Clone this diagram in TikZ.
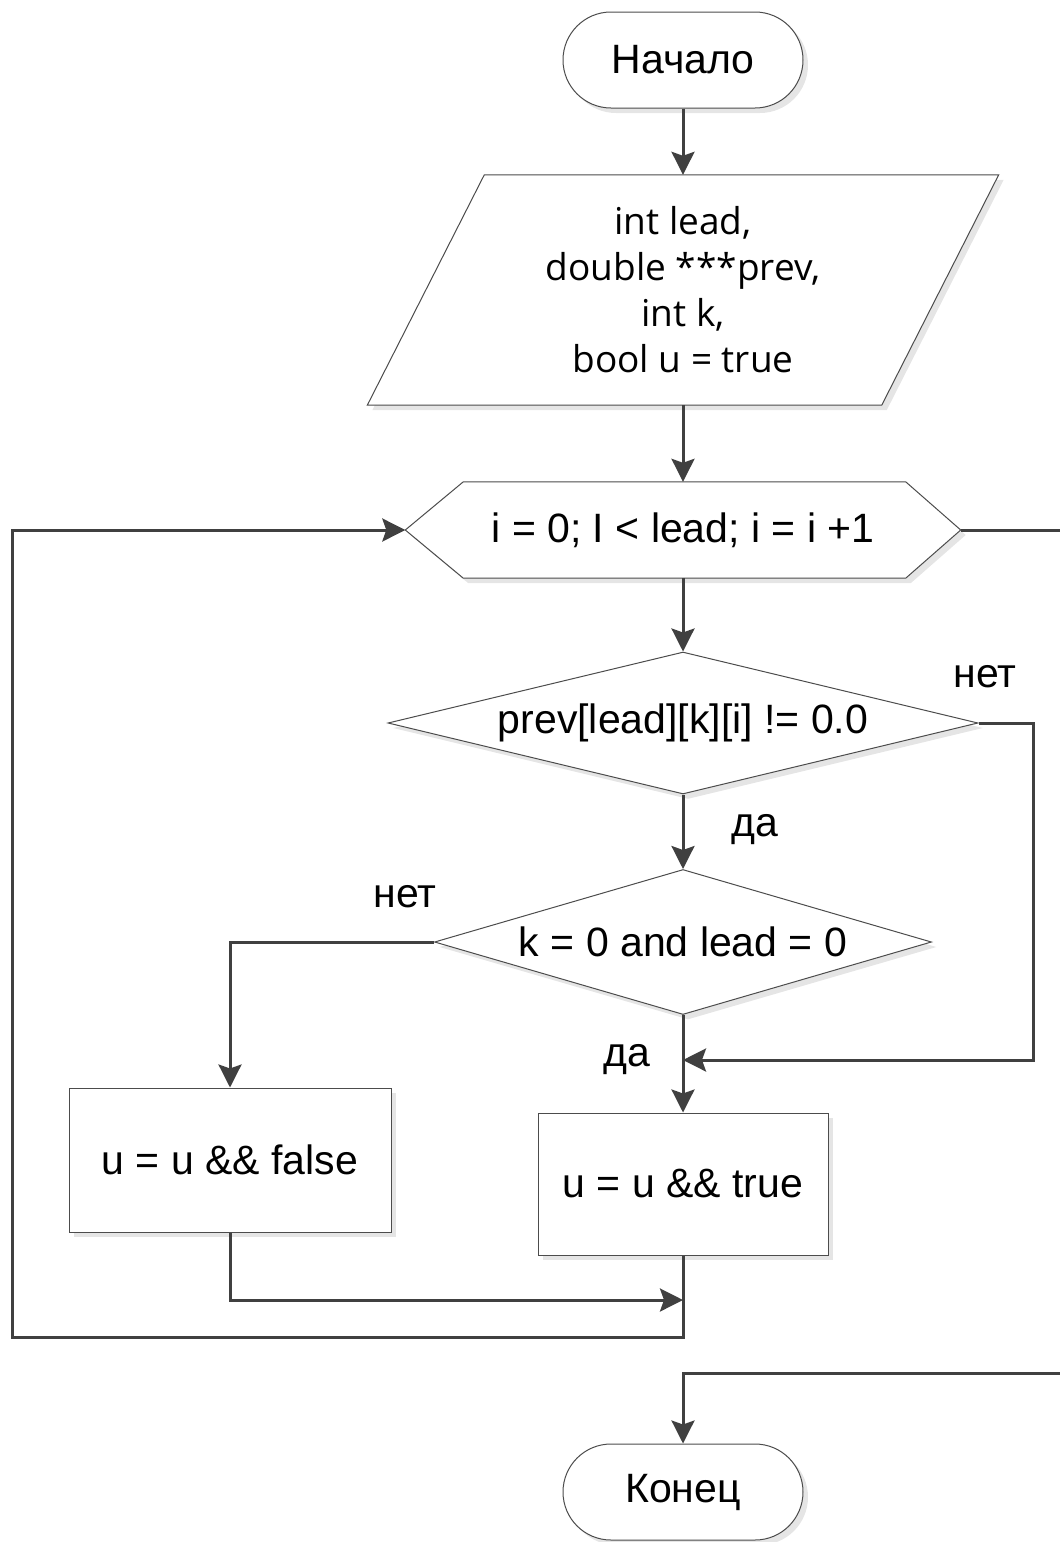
\documentclass[tikz,border=0pt]{standalone}
\usepackage{fontspec}
\setmainfont{Liberation Sans}
\newfontfamily\declfont{Open Sans}
\usetikzlibrary{shapes.geometric,shapes.misc,arrows.meta,shadows,calc,backgrounds}

\begin{document}
\begin{tikzpicture}[x=1pt,y=-1pt,
  font=\fontsize{41}{47}\selectfont,
  outline/.style={draw=black!70, line width=1pt, fill=white},
  shade/.style={drop shadow={shadow xshift=5pt, shadow yshift=-5pt, fill=black!10, opacity=1}},
  shadepath/.style={preaction={draw=none, fill=black!10, transform canvas={xshift=5pt, yshift=-5pt}}},
  term/.style={outline, shade, rounded rectangle, minimum width=240pt, minimum height=96pt, inner sep=0pt},
  procbox/.style={outline, shade, rectangle, inner sep=0pt},
  decision/.style={outline, shade, diamond, inner sep=0pt},
  frame/.style={inner sep=0pt},
  conn/.style={draw=black!75, line width=3pt},
  arrow/.style={conn, -{Stealth[length=23pt, width=23pt, inset=4pt]}},
  lbl/.style={inner sep=0pt}
]
\useasboundingbox (0,0) rectangle (1060,1542);

% terminators
\node[term] (start) at (683,60) {Начало};
\node[term] (finish) at (683,1492) {Конец};

% input block (parallelogram drawn behind its text)
\node[frame, align=center, minimum width=631pt, minimum height=230pt,
      font=\declfont\fontsize{37}{46}\selectfont] (input) at (683,290)
      {int lead,\\double ***prev,\\int k,\\bool u = true};

% loop header (hexagon drawn behind its text)
\node[frame, minimum width=555pt, minimum height=96pt] (loop) at (683,530)
      {i = 0; I < lead; i = i +1};

\begin{scope}[on background layer]
  \draw[outline, shadepath] (input.south west) -- ($(input.north west)+(117,0)$)
        -- (input.north east) -- ($(input.south east)-(117,0)$) -- cycle;
  \draw[outline, shadepath] (loop.west) -- ($(loop.north west)+(58,0)$)
        -- ($(loop.north east)-(55,0)$) -- (loop.east)
        -- ($(loop.south east)-(55,0)$) -- ($(loop.south west)+(58,0)$) -- cycle;
\end{scope}

% decisions
\node[decision, aspect=4.15, minimum width=590pt, minimum height=142pt] (cond1) at (683,723)
      {prev[lead][k][i] != 0.0};
\node[decision, aspect=3.43, minimum width=497pt, minimum height=145pt] (cond2) at (683,942)
      {k = 0 and lead = 0};

% actions
\node[procbox, minimum width=322pt, minimum height=144pt] (boxF) at (230,1160) {u = u \&\& false};
\node[procbox, minimum width=290pt, minimum height=142pt] (boxT) at (683,1184) {u = u \&\& true};

% branch labels
\node[lbl] (no1) at (985,677) {нет};
\node[lbl] (yes1) at (755,830) {да};
\node[lbl] (no2) at (405,897) {нет};
\node[lbl] (yes2) at (627,1060) {да};

% junction points
\coordinate (join1) at (683,1060);
\coordinate (join2) at (683,1300);
\coordinate (backB) at (683,1337);
\coordinate (backL) at (12,1337);
\coordinate (exitA) at (1062,530);
\coordinate (exitB) at (1062,1373);

% connectors
\draw[arrow] (start.south) -- (input.north);
\draw[arrow] (input.south) -- (loop.north);
\draw[arrow] (loop.south) -- (cond1.north);
\draw[arrow] (cond1.south) -- (cond2.north);
\draw[arrow] (cond1.east) -- ++(55,0) |- (join1);
\draw[arrow] (cond2.west) -| (boxF.north);
\draw[arrow] (cond2.south) -- (boxT.north);
\draw[arrow] (boxF.south) |- (join2);
\draw[arrow] (boxT.south) -- (backB) -- (backL) |- (loop.west);
\draw[conn] (loop.east) -- (exitA);
\draw[arrow] (exitB) -| (finish.north);
\end{tikzpicture}
\end{document}
